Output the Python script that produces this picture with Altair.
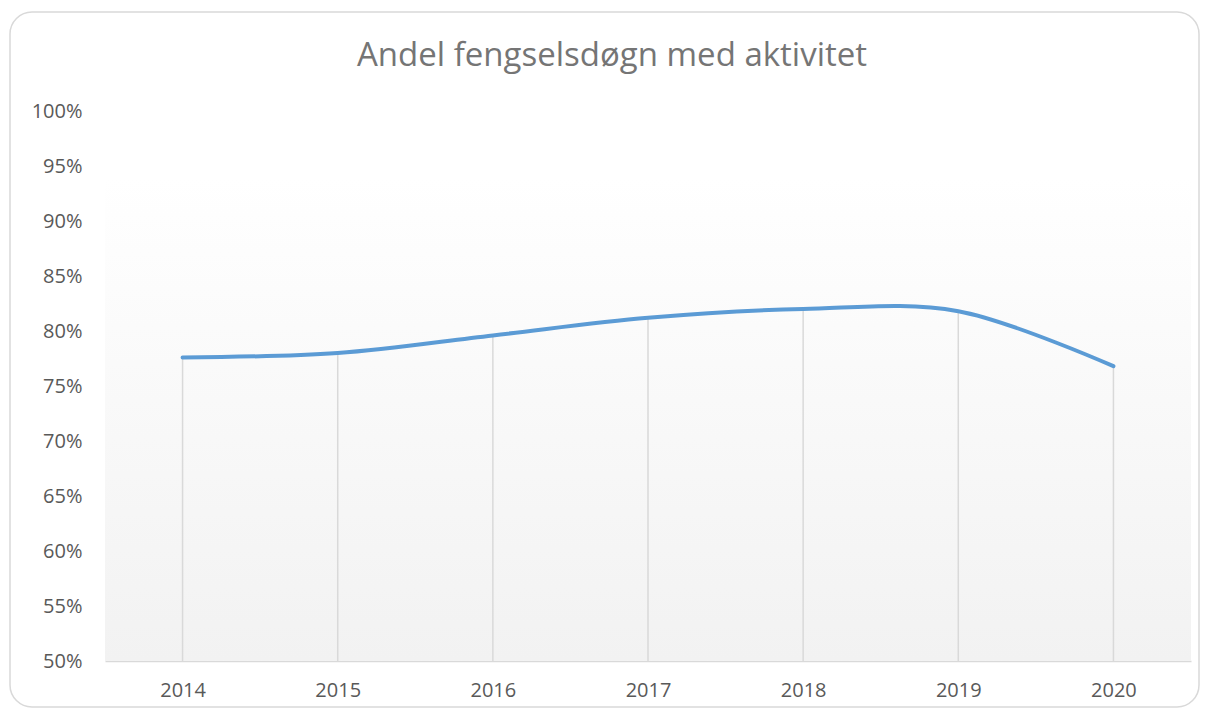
import altair as alt
import pandas as pd

years = ["2014", "2015", "2016", "2017", "2018", "2019", "2020"]
shares = [0.776, 0.780, 0.796, 0.812, 0.820, 0.818, 0.768]
y_ticks = [0.50, 0.55, 0.60, 0.65, 0.70, 0.75, 0.80, 0.85, 0.90, 0.95, 1.00]
title_text = "Andel fengselsdøgn med aktivitet"

W, H = 1086, 550
FONT = "Open Sans"

df = pd.DataFrame({"year": years, "share": shares})
one = pd.DataFrame({"k": [0]})

x_enc = alt.X("year:O", scale=alt.Scale(type="point", padding=0.5),
              axis=alt.Axis(title=None, labelAngle=0, ticks=False,
                            domainColor="#d9d9d9", domainWidth=1.5,
                            labelFontSize=20, labelColor="#595959", labelFont=FONT,
                            labelPadding=19))
y_scale = alt.Scale(domain=[0.5, 1.0], nice=False, zero=False)
y_axis = alt.Axis(title=None, values=y_ticks, format=".0%", domain=False, ticks=False,
                  grid=False, labelFontSize=20, labelColor="#595959", labelFont=FONT,
                  labelPadding=23)

bg = alt.Chart(one).mark_rect(
    fill=alt.Gradient(gradient="linear", x1=0, y1=0, x2=0, y2=1,
                      stops=[alt.GradientStop(color="#ffffff", offset=0.0),
                             alt.GradientStop(color="#ffffff", offset=0.12),
                             alt.GradientStop(color="#f2f2f2", offset=1.0)])
).encode(x=alt.value(0), x2=alt.value(W), y=alt.value(0), y2=alt.value(H))

frame = alt.Chart(one).mark_rect(
    fillOpacity=0, stroke="#d9d9d9", strokeWidth=1.5, cornerRadius=22
).encode(x=alt.value(-95), x2=alt.value(1094), y=alt.value(-99), y2=alt.value(596))

title = alt.Chart(one).mark_text(
    text=title_text, font=FONT, fontSize=33, color="#757575",
    align="center", baseline="middle"
).encode(x=alt.value(507), y=alt.value(-55))

drops = alt.Chart(df).mark_rule(color="#d9d9d9", strokeWidth=1.5).encode(
    x=x_enc,
    y=alt.Y("share:Q", scale=y_scale, axis=y_axis),
    y2=alt.datum(0.5),
)

line = alt.Chart(df).mark_line(
    color="#5B9BD5", strokeWidth=4, interpolate="cardinal", strokeCap="round"
).encode(
    x=x_enc,
    y=alt.Y("share:Q", scale=y_scale, axis=y_axis),
)

chart = alt.layer(bg, frame, title, drops, line).properties(
    width=W, height=H,
    autosize=alt.AutoSizeParams(type="none"),
    padding={"left": 97, "top": 103, "right": 10, "bottom": 48},
    background="white",
).configure_view(stroke=None)

chart.save("out.html", embed_options={"renderer": "svg", "actions": False})
